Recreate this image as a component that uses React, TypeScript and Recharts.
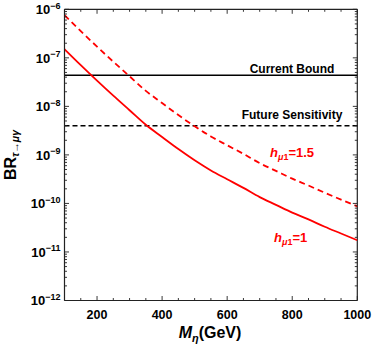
import React from 'react';
import { LineChart, Line, XAxis, YAxis, ReferenceLine } from 'recharts';

// ---- data ----
const massGeV = [100, 150, 200, 250, 300, 350, 400, 450, 500, 550, 600, 650, 700, 750, 800, 850, 900, 950, 1000];
const brH1 = [1.51e-7, 7.08e-8, 3.39e-8, 1.66e-8, 8.32e-9, 4.17e-9, 2.34e-9, 1.32e-9, 7.76e-10, 4.79e-10, 3.16e-10, 2.09e-10, 1.35e-10, 9.33e-11, 6.46e-11, 4.68e-11, 3.31e-11, 2.40e-11, 1.74e-11];
const brH15 = [7.59e-7, 3.55e-7, 1.70e-7, 8.32e-8, 4.17e-8, 2.09e-8, 1.17e-8, 6.61e-9, 3.89e-9, 2.40e-9, 1.58e-9, 1.05e-9, 6.76e-10, 4.68e-10, 3.24e-10, 2.34e-10, 1.66e-10, 1.20e-10, 8.71e-11];
const currentBound = 4.4e-8;
const futureSensitivity = 4.0e-9;
const xTicks = [100, 150, 200, 250, 300, 350, 400, 450, 500, 550, 600, 650, 700, 750, 800, 850, 900, 950, 1000];
const xMajorTicks = [200, 400, 600, 800, 1000];
const yDecadeExponents = [-12, -11, -10, -9, -8, -7, -6];
const yMinorMultipliers = [2, 3, 4, 5, 6, 7, 8, 9];

const data = massGeV.map((m, i) => ({ m, h1: brH1[i], h15: brH15[i] }));
const yTicks: number[] = [];
yDecadeExponents.forEach((e, idx) => {
  yTicks.push(Number(`1e${e}`));
  if (idx < yDecadeExponents.length - 1) {
    yMinorMultipliers.forEach((k) => yTicks.push(Number(`${k}e${e}`)));
  }
});

// ---- layout ----
const W = 374;
const H = 348;
const PLOT_L = 64.5;
const PLOT_R = 357.3;
const PLOT_T = 9.3;
const PLOT_B = 300.5;
const FRAME = '#222';
const FONT = '"Liberation Sans", Arial, Helvetica, sans-serif';
const RED = '#ff0000';

const XTick = (props: any) => {
  const { x, payload } = props;
  const v = payload.value;
  const major = xMajorTicks.includes(v);
  const len = major ? 4.5 : 2.5;
  return (
    <g>
      <line x1={x} x2={x} y1={PLOT_B} y2={PLOT_B - len} stroke={FRAME} strokeWidth={0.9} />
      <line x1={x} x2={x} y1={PLOT_T} y2={PLOT_T + len} stroke={FRAME} strokeWidth={0.9} />
      {major && (
        <text x={x} y={PLOT_B + 18} textAnchor="middle" fontFamily={FONT} fontWeight="bold" fontSize={12.5} fill="#000">
          {v}
        </text>
      )}
    </g>
  );
};

const YTick = (props: any) => {
  const { y, payload } = props;
  const v = payload.value;
  const lg = Math.log10(v);
  const major = Math.abs(lg - Math.round(lg)) < 1e-6;
  const len = major ? 4.5 : 2.5;
  return (
    <g>
      <line x1={PLOT_L} x2={PLOT_L + len} y1={y} y2={y} stroke={FRAME} strokeWidth={0.9} />
      <line x1={PLOT_R} x2={PLOT_R - len} y1={y} y2={y} stroke={FRAME} strokeWidth={0.9} />
      {major && (
        <text x={60.5} y={y + 4.7} textAnchor="end" fontFamily={FONT} fontWeight="bold" fontSize={13} fill="#000">
          10
          <tspan fontSize={9} dy={-5.5}>{`\u2212${Math.abs(Math.round(lg))}`}</tspan>
        </text>
      )}
    </g>
  );
};

export default function App() {
  return (
    <div style={{ position: 'absolute', left: 0, top: 0, width: W, height: H }}>
      <LineChart
        width={W}
        height={H}
        data={data}
        margin={{ top: PLOT_T, right: W - PLOT_R, left: 0, bottom: 0 }}
      >
        <XAxis
          dataKey="m"
          type="number"
          domain={[100, 1000]}
          allowDataOverflow
          ticks={xTicks}
          interval={0}
          tick={<XTick />}
          tickLine={false}
          tickSize={0}
          tickMargin={0}
          height={H - PLOT_B}
          axisLine={{ stroke: FRAME, strokeWidth: 1.2 }}
        />
        <YAxis
          type="number"
          scale="log"
          domain={[1e-12, 1e-6]}
          allowDataOverflow
          ticks={yTicks}
          interval={0}
          tick={<YTick />}
          tickLine={false}
          tickSize={0}
          tickMargin={0}
          width={PLOT_L}
          axisLine={{ stroke: FRAME, strokeWidth: 1.2 }}
        />
        <ReferenceLine y={1e-6} stroke={FRAME} strokeWidth={1.2} />
        <ReferenceLine x={1000} stroke={FRAME} strokeWidth={1.2} />
        <ReferenceLine y={currentBound} stroke="#000" strokeWidth={1.5} />
        <ReferenceLine y={futureSensitivity} stroke="#000" strokeWidth={1.5} strokeDasharray="5 3" />
        <Line dataKey="h1" type="monotone" stroke={RED} strokeWidth={1.8} dot={false} isAnimationActive={false} />
        <Line dataKey="h15" type="monotone" stroke={RED} strokeWidth={1.8} strokeDasharray="6 4" dot={false} isAnimationActive={false} />
      </LineChart>
      <svg
        width={W}
        height={H}
        style={{ position: 'absolute', left: 0, top: 0, pointerEvents: 'none' }}
      >
        <text x={292} y={72.5} textAnchor="middle" fontFamily={FONT} fontWeight="bold" fontSize={12} fill="#000">
          Current Bound
        </text>
        <text x={292} y={119} textAnchor="middle" fontFamily={FONT} fontWeight="bold" fontSize={12} fill="#000">
          Future Sensitivity
        </text>
        <text x={270} y={157} fontFamily={FONT} fontWeight="bold" fontSize={13} fill={RED}>
          <tspan fontStyle="italic">h</tspan>
          <tspan fontSize={9} dy={3}>
            <tspan fontStyle="italic">μ</tspan>1
          </tspan>
          <tspan dy={-3}>=1.5</tspan>
        </text>
        <text x={274} y={242} fontFamily={FONT} fontWeight="bold" fontSize={13} fill={RED}>
          <tspan fontStyle="italic">h</tspan>
          <tspan fontSize={9} dy={3}>
            <tspan fontStyle="italic">μ</tspan>1
          </tspan>
          <tspan dy={-3}>=1</tspan>
        </text>
        <text x={210} y={338} textAnchor="middle" fontFamily={FONT} fontWeight="bold" fontSize={16} fill="#000">
          <tspan fontStyle="italic">M</tspan>
          <tspan fontSize={11} dy={3.5} fontStyle="italic">η</tspan>
          <tspan dy={-3.5}>(GeV)</tspan>
        </text>
        <text
          x={15.5}
          y={155}
          transform="rotate(-90, 15.5, 155)"
          textAnchor="middle"
          fontFamily={FONT}
          fontWeight="bold"
          fill="#000"
        >
          <tspan fontSize={16}>BR</tspan>
          <tspan fontSize={10.5} dy={3.5} fontStyle="italic">τ→μγ</tspan>
        </text>
      </svg>
    </div>
  );
}
